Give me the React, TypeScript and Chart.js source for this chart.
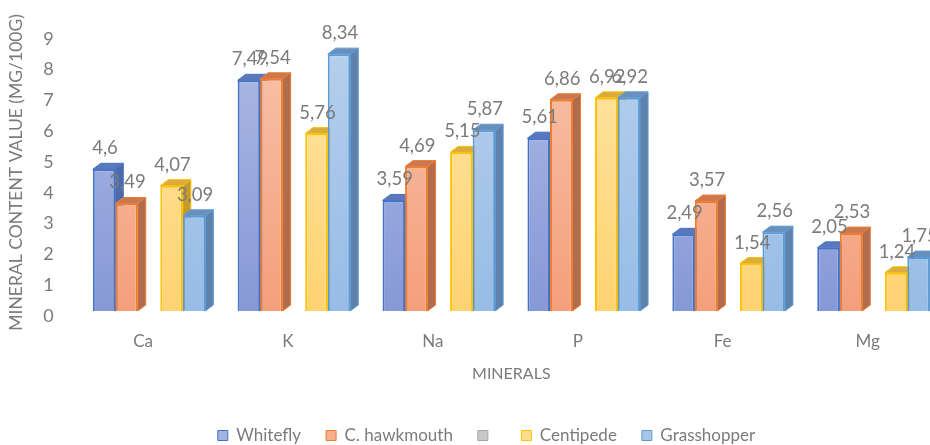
import React, { useEffect, useRef } from "react";
import { Chart, registerables } from "chart.js";

Chart.register(...registerables);

// ---- data ----
const categories = ["Ca", "K", "Na", "P", "Fe", "Mg"];
const seriesNames = ["Whitefly", "C. hawkmouth", "", "Centipede", "Grasshopper"];
const whitefly = [4.6, 7.49, 3.59, 5.61, 2.49, 2.05];
const hawkmouth = [3.49, 7.54, 4.69, 6.86, 3.57, 2.53];
const emptySeries = [null, null, null, null, null, null];
const centipede = [4.07, 5.76, 5.15, 6.92, 1.54, 1.24];
const grasshopper = [3.09, 8.34, 5.87, 6.92, 2.56, 1.75];
const yMin = 0;
const yMax = 9;
const yStep = 1;
const yTitle = "MINERAL CONTENT VALUE (MG/100G)";
const xTitle = "MINERALS";

// ---- styles ----
const frontTop = ["#aebbe4", "#f8c3aa", "#d0d0d0", "#ffe5a6", "#b7d0ec"];
const frontBottom = ["#8698d7", "#f49f7c", "#b0b0b0", "#ffd372", "#97bce6"];
const borderColors = ["#4472c4", "#ed7d31", "#a5a5a5", "#ffc000", "#5b9bd5"];
const sideColors = ["#4d6aab", "#b06c4c", "#7f7f7f", "#c49a2a", "#5f82ad"];
const topColors = ["#5a78bb", "#c97850", "#9a9a9a", "#d8ad3e", "#6b8fbd"];
const legendFill = ["#a3b2e0", "#f6ae8e", "#c8c8c8", "#ffdf8e", "#a9c6ea"];
const textColor = "#7b7b7b";
const FONT = "Lato, 'Open Sans', sans-serif";
const DX = 8;
const DY = -6;

const CANVAS_W = 946;
const CANVAS_H = 454;
const PLOT_LEFT = 76.6;
const PLOT_BOTTOM = 311;
const PAD_LEFT = 27;

const fmt = (v: number) => String(v).replace(".", ",");

const bar3dPlugin = {
  id: "bar3d",
  beforeDatasetsDraw(chart: any) {
    const ctx = chart.ctx;
    const n = chart.data.labels.length;
    ctx.save();
    for (let i = 0; i < n; i++) {
      for (let d = 0; d < chart.data.datasets.length; d++) {
        const v = chart.data.datasets[d].data[i];
        if (v == null) continue;
        const el = chart.getDatasetMeta(d).data[i];
        if (!el) continue;
        const { x, y, base, width } = el.getProps(["x", "y", "base", "width"], true);
        const left = x - width / 2;
        const right = x + width / 2;
        ctx.lineWidth = 1;
        ctx.strokeStyle = borderColors[d];
        // side face
        ctx.fillStyle = sideColors[d];
        ctx.beginPath();
        ctx.moveTo(right, y);
        ctx.lineTo(right + DX, y + DY);
        ctx.lineTo(right + DX, base + DY);
        ctx.lineTo(right, base);
        ctx.closePath();
        ctx.fill();
        ctx.stroke();
        // top face
        ctx.fillStyle = topColors[d];
        ctx.beginPath();
        ctx.moveTo(left, y);
        ctx.lineTo(left + DX, y + DY);
        ctx.lineTo(right + DX, y + DY);
        ctx.lineTo(right, y);
        ctx.closePath();
        ctx.fill();
        ctx.stroke();
      }
    }
    ctx.restore();
  },
  afterDatasetsDraw(chart: any) {
    const ctx = chart.ctx;
    ctx.save();
    ctx.font = `18.5px ${FONT}`;
    ctx.fillStyle = textColor;
    ctx.textAlign = "center";
    ctx.textBaseline = "middle";
    chart.data.datasets.forEach((ds: any, d: number) => {
      const meta = chart.getDatasetMeta(d);
      ds.data.forEach((v: number | null, i: number) => {
        if (v == null) return;
        const el = meta.data[i];
        const { x, y } = el.getProps(["x", "y"], true);
        ctx.fillText(fmt(v), x + 1, y - 21);
      });
    });
    ctx.restore();
  },
};

function makeGradient(chart: any, d: number) {
  const area = chart.chartArea;
  if (!area) return frontTop[d];
  const g = chart.ctx.createLinearGradient(0, area.top, 0, area.bottom);
  g.addColorStop(0, frontTop[d]);
  g.addColorStop(1, frontBottom[d]);
  return g;
}

export default function App() {
  const canvasRef = useRef<HTMLCanvasElement | null>(null);

  useEffect(() => {
    if (!canvasRef.current) return;
    const seriesData = [whitefly, hawkmouth, emptySeries, centipede, grasshopper];
    const chart = new Chart(canvasRef.current, {
      type: "bar",
      data: {
        labels: categories,
        datasets: seriesData.map((data, d) => ({
          label: seriesNames[d],
          data: data as any,
          backgroundColor: (c: any) => makeGradient(c.chart, d),
          borderColor: borderColors[d],
          borderWidth: 2,
          barPercentage: 1,
          categoryPercentage: 0.777,
        })),
      },
      options: {
        responsive: false,
        animation: false,
        layout: { padding: { left: PAD_LEFT, right: 0, top: 22, bottom: 0 } },
        plugins: {
          tooltip: { enabled: false },
          legend: {
            position: "bottom",
            align: "center",
            labels: {
              boxWidth: 10,
              boxHeight: 10,
              padding: 25,
              color: textColor,
              font: { family: FONT, size: 17 },
              generateLabels: (ch: any) =>
                ch.data.datasets.map((_: any, i: number) => ({
                  text: seriesNames[i],
                  fillStyle: legendFill[i],
                  strokeStyle: borderColors[i],
                  lineWidth: 1,
                  hidden: false,
                  datasetIndex: i,
                  fontColor: textColor,
                })),
            },
          },
        },
        scales: {
          x: {
            grid: { display: false, drawTicks: false },
            border: { display: false },
            ticks: {
              color: textColor,
              font: { family: FONT, size: 17 },
              padding: 20,
              labelOffset: -6,
            },
            title: {
              display: true,
              text: xTitle,
              color: textColor,
              font: { family: FONT, size: 16 },
              padding: { top: 4, bottom: 19 },
            },
            afterFit: (scale: any) => {
              const lh = scale.chart.legend ? scale.chart.legend.height : 0;
              scale.height = CANVAS_H - lh - PLOT_BOTTOM;
            },
          },
          y: {
            min: yMin,
            max: yMax,
            grid: { display: false, drawTicks: false },
            border: { display: false },
            ticks: {
              stepSize: yStep,
              color: textColor,
              font: { family: FONT, size: 18 },
              padding: 23,
              labelOffset: 5,
            },
            title: {
              display: true,
              text: yTitle,
              color: textColor,
              font: { family: FONT, size: 17.5 },
              padding: { top: -21.5, bottom: 4 },
            },
            afterFit: (scale: any) => {
              scale.width = PLOT_LEFT - PAD_LEFT;
            },
          },
        },
      },
      plugins: [bar3dPlugin],
    } as any);
    return () => chart.destroy();
  }, []);

  return (
    <div
      style={{
        position: "absolute",
        left: 0,
        top: 0,
        width: 930,
        height: 445,
        overflow: "hidden",
        background: "#ffffff",
      }}
    >
      <canvas
        ref={canvasRef}
        width={CANVAS_W}
        height={CANVAS_H}
        style={{ display: "block", width: CANVAS_W, height: CANVAS_H }}
      />
    </div>
  );
}
